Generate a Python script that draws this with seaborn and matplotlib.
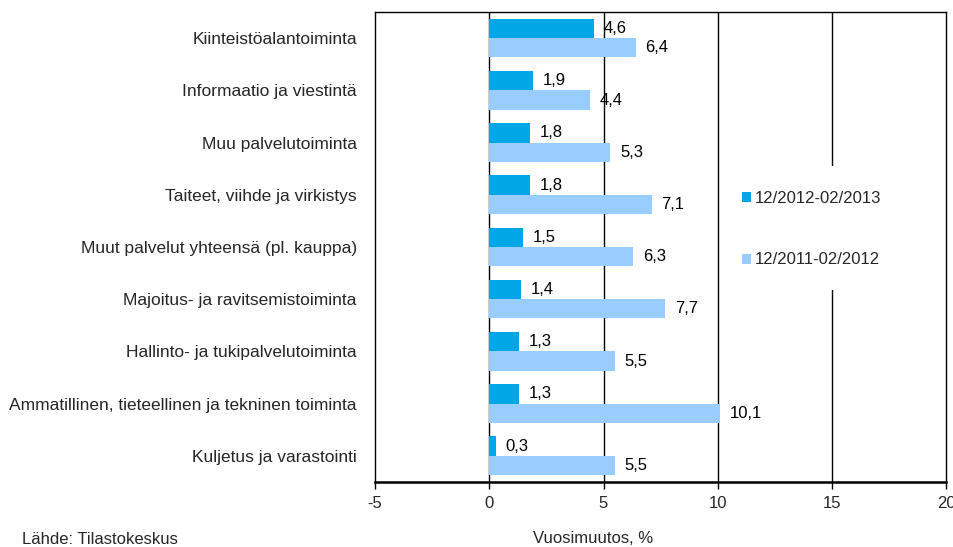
import pandas as pd
import matplotlib.pyplot as plt
import seaborn as sns

# Data
categories = [
    "Kiinteistöalantoiminta",
    "Informaatio ja viestintä",
    "Muu palvelutoiminta",
    "Taiteet, viihde ja virkistys",
    "Muut palvelut yhteensä (pl. kauppa)",
    "Majoitus- ja ravitsemistoiminta",
    "Hallinto- ja tukipalvelutoiminta",
    "Ammatillinen, tieteellinen ja tekninen toiminta",
    "Kuljetus ja varastointi",
]
series_names = ["12/2012-02/2013", "12/2011-02/2012"]
values_2013 = [4.6, 1.9, 1.8, 1.8, 1.5, 1.4, 1.3, 1.3, 0.3]
values_2012 = [6.4, 4.4, 5.3, 7.1, 6.3, 7.7, 5.5, 10.1, 5.5]
x_ticks = [-5, 0, 5, 10, 15, 20]

df = pd.DataFrame({
    "category": categories * 2,
    "period": [series_names[0]] * len(categories) + [series_names[1]] * len(categories),
    "value": values_2013 + values_2012,
})

sns.set_style("white")
plt.rcParams["font.family"] = ["Liberation Sans", "DejaVu Sans"]
plt.rcParams["axes.unicode_minus"] = False

fig = plt.figure(figsize=(9.54, 5.47), dpi=100)
ax = fig.add_axes([0.393, 0.119, 0.599, 0.859])

palette = {series_names[0]: "#00A6E6", series_names[1]: "#99CCFF"}
sns.barplot(data=df, y="category", x="value", hue="period", orient="h",
            order=categories, hue_order=series_names, palette=palette,
            width=0.74, saturation=1, linewidth=0, ax=ax, zorder=2)

# value labels with comma decimals
for cont, vals in zip(ax.containers, [values_2013, values_2012]):
    ax.bar_label(cont, labels=[f"{v:.1f}".replace(".", ",") for v in vals],
                 padding=7, fontsize=12, color="black")

ax.set_xlim(-5, 20)
ax.set_xticks(x_ticks)
ax.set_xlabel("")
ax.set_ylabel("")

# vertical gridlines (the one at 15 is interrupted by the legend)
for xv in [0, 5, 10]:
    ax.axvline(xv, color="black", linewidth=1, zorder=1)
ax.axvline(15, ymin=0, ymax=0.409, color="black", linewidth=1, zorder=1)
ax.axvline(15, ymin=0.674, ymax=1, color="black", linewidth=1, zorder=1)

for side, spine in ax.spines.items():
    spine.set_visible(True)
    spine.set_color("black")
    spine.set_linewidth(1)
ax.spines["bottom"].set_linewidth(1.8)

ax.tick_params(axis="x", direction="out", length=5, width=1, color="black",
               labelsize=12, pad=5, bottom=True)
ax.tick_params(axis="y", length=0, labelsize=12.5, pad=13)

leg = ax.legend(loc="center left", bbox_to_anchor=(0.589, 0.538),
                frameon=False, fontsize=12, labelspacing=2.8,
                handlelength=0.55, handleheight=0.55,
                handletextpad=0.25, borderpad=1.3)

fig.text(533 / 954, 1 - 531 / 547, "Vuosimuutos, %", fontsize=12, va="top", ha="left")
fig.text(22 / 954, 3 / 547, "Lähde: Tilastokeskus", fontsize=12, va="baseline", ha="left")

plt.savefig("out.png", dpi=100)
